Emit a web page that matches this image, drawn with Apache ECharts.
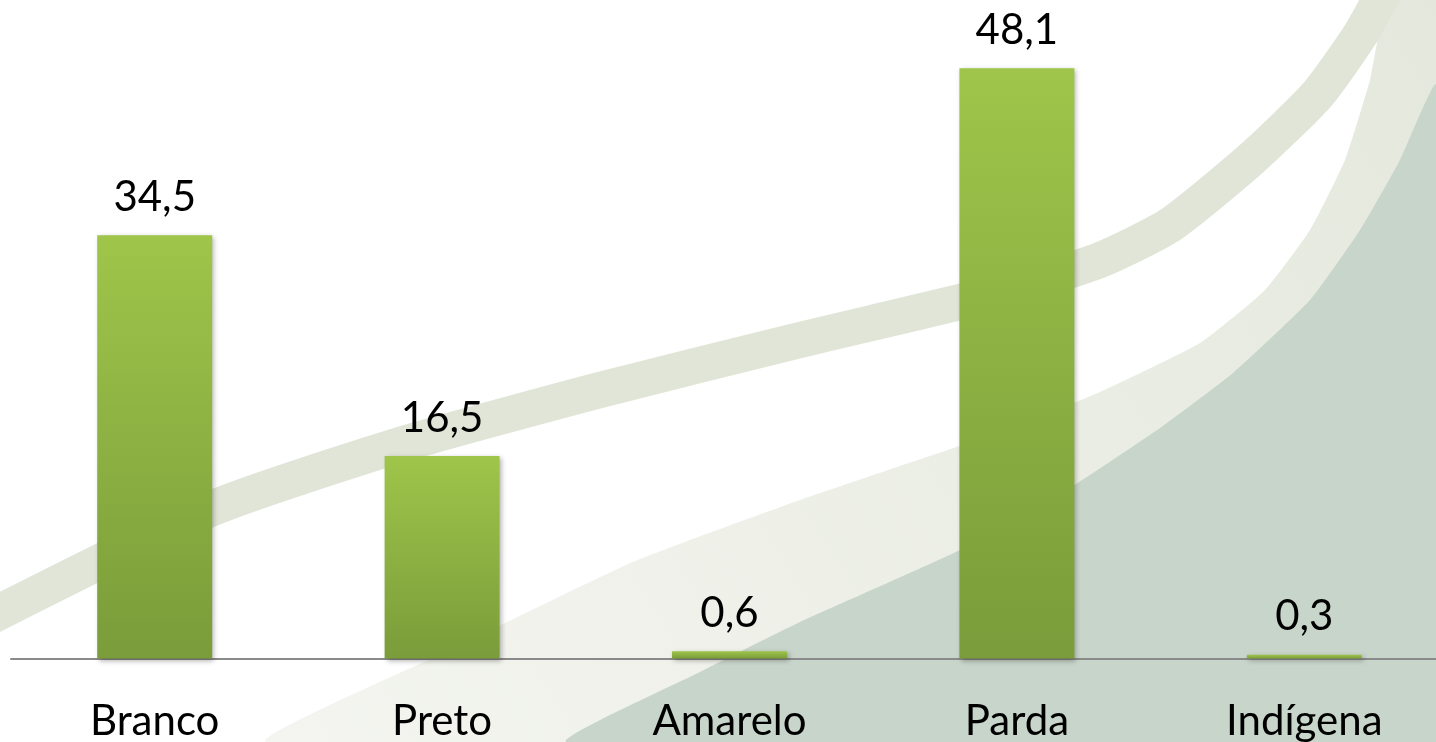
<!DOCTYPE html>
<html>
<head>
<meta charset="utf-8">
<script src="https://cdn.jsdelivr.net/npm/echarts@6/dist/echarts.min.js"></script>
<style>
  html, body { margin: 0; padding: 0; background: #fff; }
  #chart { width: 1436px; height: 742px; }
</style>
</head>
<body>
<div id="chart"></div>
<script>
// categorias e valores (%)
var categories = ['Branco', 'Preto', 'Amarelo', 'Parda', 'Indígena'];
var values = [34.5, 16.5, 0.6, 48.1, 0.3];
var valueLabels = ['34,5', '16,5', '0,6', '48,1', '0,3'];

var chart = echarts.init(document.getElementById('chart'));

chart.setOption({
  backgroundColor: '#ffffff',
  // fundo decorativo do modelo de slide
  graphic: [
    {
      // faixa clara acima da área verde
      type: 'polygon', z: -12, silent: true,
      shape: {
        smooth: 0.15,
        points: [[267, 742], [450, 650], [633, 562], [800, 500], [1000, 432], [1100, 392], [1200, 343],
                 [1265, 290], [1310, 230], [1345, 160], [1370, 80], [1388, 0], [1436, 0], [1436, 742]]
      },
      style: {
        fill: new echarts.graphic.LinearGradient(0, 1, 1, 0, [
          { offset: 0, color: '#f4f5f0' },
          { offset: 1, color: '#e4e8dc' }
        ])
      }
    },
    {
      // área verde acinzentada
      type: 'polygon', z: -10, silent: true,
      shape: {
        smooth: 0.15,
        points: [[567, 742], [700, 672], [800, 622], [960, 550], [1076, 484], [1160, 428], [1233, 373],
                 [1310, 300], [1360, 230], [1400, 160], [1436, 85], [1436, 742]]
      },
      style: { fill: '#c8d5ca' }
    },
    {
      // faixa curva superior
      type: 'polyline', z: -9, silent: true,
      shape: {
        smooth: 0.2,
        points: [[-20, 622], [213, 508], [400, 445], [600, 390], [800, 340], [1000, 292],
                 [1100, 260], [1170, 225], [1250, 160], [1317, 95], [1360, 35], [1385, -10]]
      },
      style: { stroke: '#e0e5d7', lineWidth: 36, fill: null }
    }
  ],
  grid: {
    left: 11, top: 45, right: -12, bottom: 83.5,
    containLabel: false,
    outerBoundsMode: 'none'
  },
  xAxis: {
    type: 'category',
    data: categories,
    axisLine: { lineStyle: { color: '#8a8a8a', width: 2 } },
    axisTick: { show: false },
    axisLabel: {
      color: '#000',
      fontFamily: 'Lato',
      fontSize: 42,
      margin: 42
    }
  },
  yAxis: {
    type: 'value',
    min: 0,
    max: 50,
    show: false,
    splitLine: { show: false }
  },
  series: [{
    type: 'bar',
    data: values,
    barWidth: '40%',
    itemStyle: {
      color: new echarts.graphic.LinearGradient(0, 0, 0, 1, [
        { offset: 0, color: '#9fc54a' },
        { offset: 1, color: '#7a9c3a' }
      ]),
      shadowColor: 'rgba(0,0,0,0.3)',
      shadowBlur: 5,
      shadowOffsetX: 2,
      shadowOffsetY: 2
    },
    label: {
      show: true,
      position: 'top',
      distance: 17,
      color: '#000',
      fontFamily: 'Lato',
      fontSize: 42,
      formatter: function (p) { return valueLabels[p.dataIndex]; }
    }
  }]
});
</script>
</body>
</html>
